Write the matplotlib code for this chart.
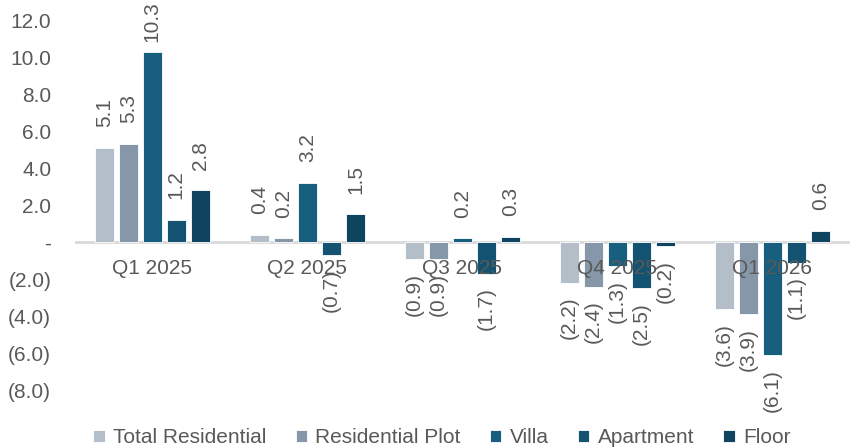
import numpy as np
import matplotlib.pyplot as plt

plt.rcParams['font.family'] = ['Liberation Sans', 'DejaVu Sans']

# data
quarters = ['Q1 2025', 'Q2 2025', 'Q3 2025', 'Q4 2025', 'Q1 2026']
series = ['Total Residential', 'Residential Plot', 'Villa', 'Apartment', 'Floor']
total_res = [5.1, 0.4, -0.9, -2.2, -3.6]
res_plot = [5.3, 0.2, -0.9, -2.4, -3.9]
villa = [10.3, 3.2, 0.2, -1.3, -6.1]
apartment = [1.2, -0.7, -1.7, -2.5, -1.1]
floor = [2.8, 1.5, 0.3, -0.2, 0.6]
values = [total_res, res_plot, villa, apartment, floor]

colors = ['#b4bec8', '#8697a9', '#175e7f', '#135270', '#0e4460']
txt = '#595959'
fs = 15


def fmt(v):
    if v < 0:
        return '(%.1f)' % abs(v)
    return '%.1f' % v


fig = plt.figure(figsize=(8.5, 4.48), dpi=100)
ax = fig.add_axes([0.088, 0.129, 0.912, 0.826])

x = np.arange(len(quarters))
w = 0.123
step = 0.155
for i, (name, vals) in enumerate(zip(series, values)):
    pos = x + (i - 2) * step
    ax.bar(pos, vals, width=w, color=colors[i], edgecolor='white', linewidth=0.6,
           label=name, zorder=2)
    for p, v in zip(pos, vals):
        if v >= 0:
            off = 15 if v < 9 else 7
            ax.annotate(fmt(v), (p, v), xytext=(0, off), textcoords='offset points',
                        rotation=90, ha='center', va='bottom', fontsize=fs,
                        color=txt, annotation_clip=False)
        else:
            ax.annotate(fmt(v), (p, v), xytext=(0, -10), textcoords='offset points',
                        rotation=90, ha='center', va='top', fontsize=fs,
                        color=txt, annotation_clip=False)

ax.set_xlim(-0.5, len(quarters) - 0.5)
ax.set_ylim(-8, 12)
yt = np.arange(-8, 13, 2)
ax.set_yticks(yt)
ax.set_yticklabels(['-' if t == 0 else fmt(t) for t in yt], fontsize=fs, color=txt)
ax.tick_params(axis='y', length=0, pad=17)

ax.axhline(0, color='#d9d9d9', linewidth=2, zorder=1)
ax.set_xticks([])
for xi, q in zip(x, quarters):
    ax.annotate(q, (xi, 0), xytext=(0, -12), textcoords='offset points',
                ha='center', va='top', fontsize=fs, color=txt, zorder=3)

for s in ax.spines.values():
    s.set_visible(False)

leg = fig.legend(loc='lower center', bbox_to_anchor=(0.52, -0.04), ncol=5, frameon=False,
                 fontsize=fs, handlelength=0.55, handleheight=0.55, handletextpad=0.4,
                 columnspacing=1.4)
for t in leg.get_texts():
    t.set_color(txt)

fig.savefig('out.png', dpi=100)
